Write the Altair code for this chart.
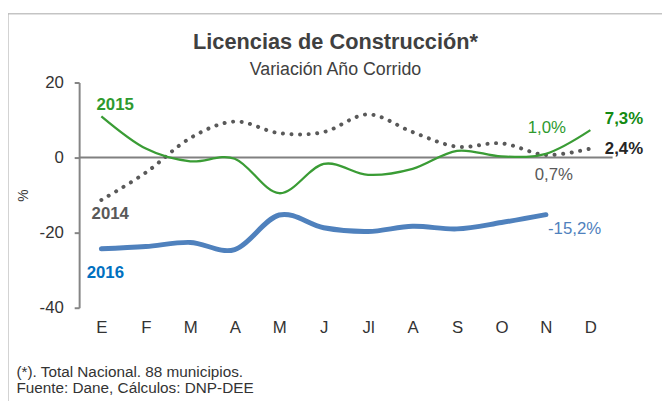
import altair as alt
import pandas as pd

MONTHS = ["E", "F", "M", "A", "M", "J", "Jl", "A", "S", "O", "N", "D"]
V2014 = [-11.3, -4.0, 5.2, 9.6, 6.5, 6.8, 11.5, 6.8, 2.9, 3.8, 0.7, 2.4]
V2015 = [11.0, 2.4, -1.0, -0.3, -9.5, -1.7, -4.6, -3.0, 1.8, 0.3, 1.0, 7.3]
V2016 = [-24.3, -23.7, -22.6, -24.5, -15.3, -18.7, -19.7, -18.3, -19.0, -17.3, -15.2]

TITLE = "Licencias de Construcción*"
SUBTITLE = "Variación Año Corrido"
FOOTER = ["(*). Total Nacional. 88 municipios.", "Fuente: Dane,  Cálculos: DNP-DEE"]

FONT = "Liberation Sans"

def series_df(vals):
    return pd.DataFrame({"m": list(range(1, len(vals) + 1)), "v": vals})

label_expr = "[" + ",".join("'%s'" % s for s in MONTHS) + "][datum.value - 1]"

x_enc = alt.X("m:Q", scale=alt.Scale(domain=[0.5, 12.5], nice=False, zero=False),
              axis=alt.Axis(values=list(range(1, 13)), labelExpr=label_expr, title=None,
                            domain=False, ticks=False, grid=False, labelPadding=12,
                            labelFontSize=17, labelColor="#333333", labelFont=FONT))
y_enc = alt.Y("v:Q", scale=alt.Scale(domain=[-40, 20], nice=False),
              axis=alt.Axis(values=[-40, -20, 0, 20], labelExpr="datum.value + ''",
                            title="%", grid=False,
                            domainColor="#858585", domainWidth=2, tickColor="#858585",
                            tickWidth=2, tickSize=5, labelPadding=11, labelFontSize=17,
                            labelColor="#333333", labelFont=FONT, titleFont=FONT,
                            titleFontSize=14, titleFontWeight="normal", titleColor="#333333",
                            titlePadding=9))

one = pd.DataFrame({"a": [0]})

border = alt.Chart(one).mark_rect(fill=None, stroke="#A6A6A6", strokeWidth=1).encode(
    x=alt.value(-72), y=alt.value(-69.5), x2=alt.value(640), y2=alt.value(420))

title = alt.Chart(one).mark_text(
    text=TITLE, font=FONT, fontSize=22, fontWeight="bold", color="#404040",
    align="center", baseline="alphabetic").encode(x=alt.value(259.5), y=alt.value(-34))
subtitle = alt.Chart(one).mark_text(
    text=SUBTITLE, font=FONT, fontSize=18, color="#404040",
    align="center", baseline="alphabetic").encode(x=alt.value(259.5), y=alt.value(-8))

zero = alt.Chart(one).mark_rule(color="#808080", strokeWidth=2).encode(y=alt.datum(0))

l2014 = alt.Chart(series_df(V2014)).mark_line(
    interpolate="cardinal", color="#595959", strokeWidth=4, strokeDash=[0.1, 8.6],
    strokeCap="round").encode(x=x_enc, y=y_enc)
l2015 = alt.Chart(series_df(V2015)).mark_line(
    interpolate="cardinal", color="#3A9C35", strokeWidth=2.3).encode(x="m:Q", y="v:Q")
l2016 = alt.Chart(series_df(V2016)).mark_line(
    interpolate="cardinal", color="#4F81BD", strokeWidth=5, strokeCap="round").encode(x="m:Q", y="v:Q")

# labels: (text, month index, value, colour, bold, dx, dy)
LABELS = [
    ("2015", 1, V2015[0], "#2E9A2E", True, 14, -11),
    ("2014", 1, V2014[0], "#595959", True, 9, 14),
    ("2016", 1, V2016[0], "#0070C0", True, 4, 25),
    ("1,0%", 11, V2015[10], "#2E9A2E", False, 1, -26),
    ("7,3%", 12, V2015[11], "#138A13", True, 34, -11),
    ("2,4%", 12, V2014[11], "#262626", True, 34, 1),
    ("0,7%", 11, V2014[10], "#595959", False, 8, 20),
    ("-15,2%", 11, V2016[10], "#4F81BD", False, 29, 15),
]

label_layers = []
for txt, m, v, col, bold, dx, dy in LABELS:
    d = pd.DataFrame({"m": [m], "v": [v], "t": [txt]})
    label_layers.append(
        alt.Chart(d).mark_text(font=FONT, fontSize=17, fontWeight="bold" if bold else "normal",
                               color=col, dx=dx, dy=dy, align="center", baseline="middle")
        .encode(x="m:Q", y="v:Q", text="t:N"))

footer = alt.Chart(one).mark_text(
    text=FOOTER, font=FONT, fontSize=15.5, lineHeight=16, color="#333333",
    align="left", baseline="alphabetic").encode(x=alt.value(-63.5), y=alt.value(298))

chart = alt.layer(border, title, subtitle, zero, l2014, l2015, l2016, *label_layers, footer).properties(
    width=540, height=228,
    autosize=alt.AutoSizeParams(type="none"),
    padding={"left": 72, "top": 73, "right": 50, "bottom": 92},
).configure_view(stroke=None)

chart.save("out.html", embed_options={"renderer": "svg", "actions": False})
